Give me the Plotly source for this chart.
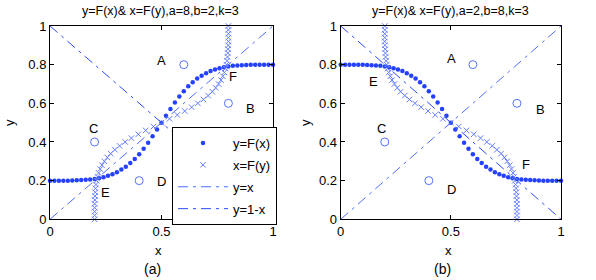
import plotly.graph_objects as go

# ---- data ----
grid = [0.00, 0.02, 0.04, 0.06, 0.08, 0.10, 0.12, 0.14, 0.16, 0.18,
        0.20, 0.22, 0.24, 0.26, 0.28, 0.30, 0.32, 0.34, 0.36, 0.38,
        0.40, 0.42, 0.44, 0.46, 0.48, 0.50, 0.52, 0.54, 0.56, 0.58,
        0.60, 0.62, 0.64, 0.66, 0.68, 0.70, 0.72, 0.74, 0.76, 0.78,
        0.80, 0.82, 0.84, 0.86, 0.88, 0.90, 0.92, 0.94, 0.96, 0.98, 1.00]

F_left = [0.200, 0.200, 0.200, 0.200, 0.200, 0.201, 0.202, 0.203, 0.204, 0.206,
          0.209, 0.213, 0.218, 0.225, 0.233, 0.244, 0.257, 0.272, 0.291, 0.312,
          0.337, 0.365, 0.396, 0.429, 0.464, 0.500, 0.536, 0.571, 0.604, 0.635,
          0.663, 0.688, 0.709, 0.728, 0.743, 0.756, 0.767, 0.775, 0.782, 0.787,
          0.791, 0.794, 0.796, 0.797, 0.798, 0.799, 0.800, 0.800, 0.800, 0.800, 0.800]

F_right = [0.800, 0.800, 0.800, 0.800, 0.800, 0.799, 0.798, 0.797, 0.796, 0.794,
           0.791, 0.787, 0.782, 0.775, 0.767, 0.756, 0.743, 0.728, 0.709, 0.688,
           0.663, 0.635, 0.604, 0.571, 0.536, 0.500, 0.464, 0.429, 0.396, 0.365,
           0.337, 0.312, 0.291, 0.272, 0.257, 0.244, 0.233, 0.225, 0.218, 0.213,
           0.209, 0.206, 0.204, 0.203, 0.202, 0.201, 0.200, 0.200, 0.200, 0.200, 0.200]

pts_x = [0.6, 0.8, 0.2, 0.4]
pts_y = [0.8, 0.6, 0.4, 0.2]

line_x = [0, 1]
diag_y = [0, 1]
anti_y = [1, 0]

x_ticks = [0, 0.5, 1]
x_ticktext = ["0", "0.5", "1"]
y_ticks = [0, 0.2, 0.4, 0.6, 0.8, 1]
y_ticktext = ["0", "0.2", "0.4", "0.6", "0.8", "1"]

titles = ["y=F(x)& x=F(y),a=8,b=2,k=3", "y=F(x)& x=F(y),a=2,b=8,k=3"]
captions = ["(a)", "(b)"]

# label positions (letter annotations) per panel
lab_left = {"A": (0.50, 0.82), "B": (0.90, 0.575), "C": (0.195, 0.47), "D": (0.50, 0.195),
            "E": (0.25, 0.14), "F": (0.82, 0.74)}
lab_right = {"A": (0.505, 0.83), "B": (0.905, 0.57), "C": (0.185, 0.47), "D": (0.505, 0.155),
             "E": (0.15, 0.715), "F": (0.84, 0.285)}

# ---- styling ----
W, H = 596, 280
FONT = "Liberation Sans, Arial, sans-serif"
DOT = "rgb(35,65,255)"
CROSS = "rgb(100,125,255)"
CIRC = "rgb(85,115,255)"
L1 = "rgb(80,110,255)"
L2 = "rgb(45,75,255)"
DASH = "10px,5px,3px,5px"

def px_x(p):
    return p / W

def px_y(p):
    return 1 - p / H

fig = go.Figure()

panels = [("x", "y", F_left, True), ("x2", "y2", F_right, False)]
for xa, ya, F, show in panels:
    fig.add_trace(go.Scatter(x=grid, y=F, mode="markers", xaxis=xa, yaxis=ya,
                             marker=dict(symbol="circle", size=4.5, color=DOT),
                             name="y=F(x)", legendgroup="g1", showlegend=show, cliponaxis=False))
    fig.add_trace(go.Scatter(x=F, y=grid, mode="markers", xaxis=xa, yaxis=ya,
                             marker=dict(symbol="x-thin-open", size=5.5, color=CROSS,
                                         line=dict(color=CROSS, width=1)),
                             name="x=F(y)", legendgroup="g2", showlegend=show, cliponaxis=False))
    fig.add_trace(go.Scatter(x=line_x, y=diag_y, mode="lines", xaxis=xa, yaxis=ya,
                             line=dict(color=L1, width=1, dash=DASH),
                             name="y=x", legendgroup="g3", showlegend=show))
    fig.add_trace(go.Scatter(x=line_x, y=anti_y, mode="lines", xaxis=xa, yaxis=ya,
                             line=dict(color=L2, width=1, dash=DASH),
                             name="y=1-x", legendgroup="g4", showlegend=show))
    fig.add_trace(go.Scatter(x=pts_x, y=pts_y, mode="markers", xaxis=xa, yaxis=ya,
                             marker=dict(symbol="circle-open", size=8, color=CIRC,
                                         line=dict(color=CIRC, width=1)),
                             showlegend=False, cliponaxis=False))

axis_common = dict(range=[0, 1], showgrid=False, zeroline=False, showline=True,
                   linecolor="black", linewidth=1, mirror="ticks", ticks="inside",
                   ticklen=4, tickcolor="black", tickfont=dict(family=FONT, size=13, color="black"))

fig.update_layout(
    width=W, height=H, margin=dict(l=0, r=0, t=0, b=0, autoexpand=False),
    paper_bgcolor="white", plot_bgcolor="white",
    font=dict(family=FONT, size=13, color="black"),
    xaxis=dict(domain=[px_x(50), px_x(273)], anchor="y", tickvals=x_ticks, ticktext=x_ticktext, **axis_common),
    yaxis=dict(domain=[px_y(219.3), px_y(26)], anchor="x", tickvals=y_ticks, ticktext=y_ticktext, **axis_common),
    xaxis2=dict(domain=[px_x(340.7), px_x(561)], anchor="y2", tickvals=x_ticks, ticktext=x_ticktext, **axis_common),
    yaxis2=dict(domain=[px_y(219.3), px_y(26)], anchor="x2", tickvals=y_ticks, ticktext=y_ticktext, **axis_common),
    legend=dict(x=px_x(172), y=px_y(127), xanchor="left", yanchor="top",
                bgcolor="white", bordercolor="black", borderwidth=1,
                font=dict(family=FONT, size=13, color="black"),
                itemwidth=50, tracegroupgap=2),
)

ann = []
for xr, yr, labs in [("x", "y", lab_left), ("x2", "y2", lab_right)]:
    for k, (lx, ly) in labs.items():
        ann.append(dict(x=lx, y=ly, xref=xr, yref=yr, text=k, showarrow=False,
                        font=dict(family=FONT, size=13, color="black"),
                        xanchor="center", yanchor="middle"))

for i, (cx, ylx) in enumerate([(160, 9), (450, 305)]):
    ann.append(dict(x=px_x(cx), y=px_y(11), xref="paper", yref="paper", text=titles[i],
                    showarrow=False, font=dict(family=FONT, size=12.5, color="black"),
                    xanchor="center", yanchor="middle"))
    ann.append(dict(x=px_x(cx - 2), y=px_y(250), xref="paper", yref="paper", text="x",
                    showarrow=False, font=dict(family=FONT, size=13, color="black"),
                    xanchor="center", yanchor="middle"))
    ann.append(dict(x=px_x(cx - 8), y=px_y(269), xref="paper", yref="paper", text=captions[i],
                    showarrow=False, font=dict(family=FONT, size=14, color="black"),
                    xanchor="center", yanchor="middle"))
    ann.append(dict(x=px_x(ylx), y=px_y(123), xref="paper", yref="paper", text="y",
                    showarrow=False, textangle=-90, font=dict(family=FONT, size=13, color="black"),
                    xanchor="center", yanchor="middle"))

fig.update_layout(annotations=ann)
fig.write_html("out.html", config={"displayModeBar": False},
               post_script="document.body.style.margin='0px';")
